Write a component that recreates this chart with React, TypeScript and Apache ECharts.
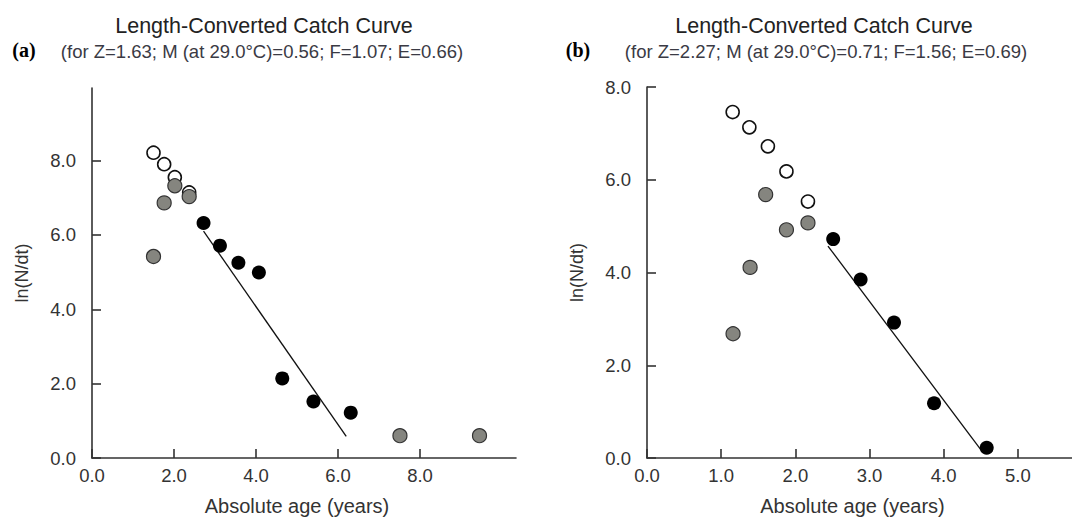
import React, { useEffect, useRef } from "react";
import * as echarts from "echarts";

// Panel (a)
const aOpenX = [1.5, 1.76, 2.02, 2.37];
const aOpenY = [8.21, 7.9, 7.55, 7.14];
const aGreyX = [1.5, 1.76, 2.02, 2.37, 7.51, 9.45];
const aGreyY = [5.42, 6.86, 7.32, 7.03, 0.6, 0.6];
const aBlackX = [2.72, 3.12, 3.57, 4.07, 4.64, 5.4, 6.31];
const aBlackY = [6.32, 5.71, 5.25, 4.99, 2.14, 1.52, 1.22];
const aLineX = [2.72, 6.2];
const aLineY = [6.1, 0.58];
const aXTicks = [0, 2, 4, 6, 8];
const aYTicks = [0, 2, 4, 6, 8];

// Panel (b)
const bOpenX = [1.155, 1.38, 1.63, 1.88, 2.17];
const bOpenY = [7.46, 7.13, 6.72, 6.18, 5.53];
const bGreyX = [1.16, 1.39, 1.6, 1.88, 2.17];
const bGreyY = [2.68, 4.11, 5.68, 4.92, 5.07];
const bBlackX = [2.51, 2.88, 3.33, 3.87, 4.58];
const bBlackY = [4.72, 3.85, 2.92, 1.18, 0.22];
const bLineX = [2.44, 4.51];
const bLineY = [4.57, 0.16];
const bXTicks = [0, 1, 2, 3, 4, 5];
const bYTicks = [0, 2, 4, 6, 8];

const titleText = "Length-Converted Catch Curve";
const subA = "(for Z=1.63; M (at 29.0\u00B0C)=0.56; F=1.07; E=0.66)";
const subB = "(for Z=2.27; M (at 29.0\u00B0C)=0.71; F=1.56; E=0.69)";
const xName = "Absolute age (years)";
const yName = "ln(N/dt)";

const FONT = "'Liberation Sans', Arial, sans-serif";
const zip = (xs: number[], ys: number[]) => xs.map((x, i) => [x, ys[i]]);

function xAxisCfg(gridIndex: number, max: number, ticks: number[]) {
  return {
    type: "value",
    gridIndex,
    min: 0,
    max,
    name: xName,
    nameLocation: "middle",
    nameGap: 38,
    nameTextStyle: { fontFamily: FONT, fontSize: 20, color: "#333", padding: [0, 14, 0, 0] },
    splitLine: { show: false },
    axisLine: { show: true, onZero: false, lineStyle: { color: "#333", width: 1.6 } },
    axisTick: { show: true, inside: true, length: 9, customValues: ticks, lineStyle: { color: "#333", width: 1.6 } },
    axisLabel: {
      customValues: ticks,
      margin: 8,
      fontFamily: FONT,
      fontSize: 18.5,
      color: "#333",
      formatter: (v: number) => v.toFixed(1),
    },
  };
}

function yAxisCfg(gridIndex: number, max: number, ticks: number[]) {
  return {
    type: "value",
    gridIndex,
    min: 0,
    max,
    name: yName,
    nameLocation: "middle",
    nameGap: 61,
    nameTextStyle: { fontFamily: FONT, fontSize: 18, color: "#333" },
    splitLine: { show: false },
    axisLine: { show: true, onZero: false, lineStyle: { color: "#333", width: 1.6 } },
    axisTick: { show: true, inside: true, length: 9, customValues: ticks, lineStyle: { color: "#333", width: 1.6 } },
    axisLabel: {
      customValues: ticks,
      margin: 16,
      fontFamily: FONT,
      fontSize: 18.5,
      color: "#333",
      formatter: (v: number) => v.toFixed(1),
    },
  };
}

function panelSeries(
  idx: number,
  open: number[][],
  grey: number[][],
  black: number[][],
  line: number[][]
) {
  return [
    {
      type: "scatter",
      xAxisIndex: idx,
      yAxisIndex: idx,
      data: open,
      symbol: "circle",
      symbolSize: 13,
      itemStyle: { color: "#fff", borderColor: "#111", borderWidth: 1.6, opacity: 1 },
    },
    {
      type: "scatter",
      xAxisIndex: idx,
      yAxisIndex: idx,
      data: grey,
      symbol: "circle",
      symbolSize: 14,
      itemStyle: { color: "#85857f", borderColor: "#333", borderWidth: 1.2, opacity: 1 },
    },
    {
      type: "scatter",
      xAxisIndex: idx,
      yAxisIndex: idx,
      data: black,
      symbol: "circle",
      symbolSize: 14,
      itemStyle: { color: "#000", borderColor: "#000", borderWidth: 0, opacity: 1 },
    },
    {
      type: "line",
      xAxisIndex: idx,
      yAxisIndex: idx,
      data: line,
      symbol: "none",
      lineStyle: { color: "#111", width: 1.3 },
      z: 1,
    },
  ];
}

export default function App() {
  const ref = useRef<HTMLDivElement>(null);
  useEffect(() => {
    if (!ref.current) return;
    const chart = echarts.init(ref.current, null, { renderer: "svg" });
    const textStyle = (text: string, size: number, color: string, extra: any = {}) => ({
      text,
      fontFamily: FONT,
      fontSize: size,
      fill: color,
      textAlign: "center",
      textVerticalAlign: "middle",
      ...extra,
    });
    chart.setOption({
      animation: false,
      backgroundColor: "#fff",
      grid: [
        { left: 92, top: 88, width: 424, height: 371 },
        { left: 647, top: 87, width: 425, height: 372 },
      ],
      xAxis: [xAxisCfg(0, 10.34, aXTicks), xAxisCfg(1, 5.73, bXTicks)],
      yAxis: [yAxisCfg(0, 9.95, aYTicks), yAxisCfg(1, 8, bYTicks)],
      series: [
        ...panelSeries(0, zip(aOpenX, aOpenY), zip(aGreyX, aGreyY), zip(aBlackX, aBlackY), zip(aLineX, aLineY)),
        ...panelSeries(1, zip(bOpenX, bOpenY), zip(bGreyX, bGreyY), zip(bBlackX, bBlackY), zip(bLineX, bLineY)),
      ],
      graphic: [
        { type: "text", x: 264, y: 26, style: textStyle(titleText, 21.5, "#222") },
        { type: "text", x: 262, y: 51, style: textStyle(subA, 18.5, "#3a3a44") },
        {
          type: "text",
          x: 24,
          y: 50,
          style: textStyle("(a)", 20, "#000", { fontFamily: "'Liberation Serif', 'Times New Roman', serif", fontWeight: "bold" }),
        },
        { type: "text", x: 824, y: 26, style: textStyle(titleText, 21.5, "#222") },
        { type: "text", x: 826, y: 51, style: textStyle(subB, 18.5, "#3a3a44") },
        {
          type: "text",
          x: 578,
          y: 50,
          style: textStyle("(b)", 20, "#000", { fontFamily: "'Liberation Serif', 'Times New Roman', serif", fontWeight: "bold" }),
        },
      ],
    });
    return () => chart.dispose();
  }, []);
  return (
    <div
      ref={ref}
      style={{ position: "absolute", left: 0, top: 0, width: 1072, height: 521, background: "#fff" }}
    />
  );
}
